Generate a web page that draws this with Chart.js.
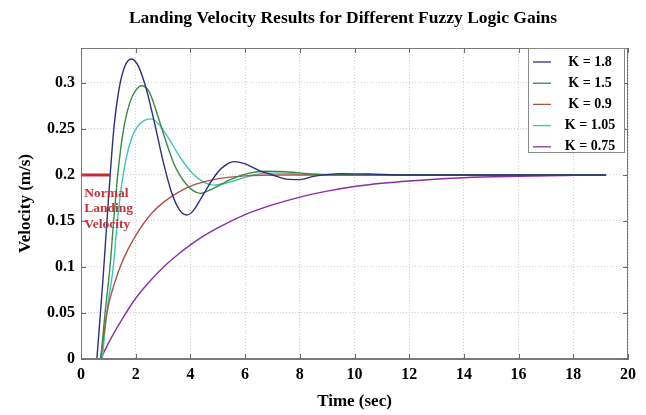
<!DOCTYPE html>
<html>
<head>
<meta charset="utf-8">
<title>Landing Velocity Results for Different Fuzzy Logic Gains</title>
<script src="https://cdn.jsdelivr.net/npm/chart.js@4.4.1/dist/chart.umd.min.js"></script>
<style>
    html, body { margin: 0; padding: 0; background: #fff; }
    #wrap { width: 646px; height: 415px; position: relative; }
</style>
</head>
<body>
<div id="wrap"><canvas id="velocityChart"></canvas></div>
<script>
// Data
const chartTitle = 'Landing Velocity Results for Different Fuzzy Logic Gains';
const seriesLabels = ['K = 1.8', 'K = 1.5', 'K = 0.9', 'K = 1.05', 'K = 0.75'];
const seriesColors = ['#2e2f7c', '#3b8a42', '#b0524a', '#3fc4bc', '#8a2ea6'];

const k18Time = [0.58, 0.8, 1.0, 1.2, 1.4, 1.6, 1.85, 2.1, 2.4, 2.7, 3.0, 3.3, 3.6, 3.87, 4.1, 4.4, 4.7, 5.0, 5.3, 5.6, 6.0, 6.5, 7.0, 7.5, 8.0, 8.5, 9.5, 10.5, 12, 15, 19.2];
const k18Vel = [0, 0.085, 0.172, 0.25, 0.295, 0.318, 0.326, 0.318, 0.292, 0.255, 0.215, 0.182, 0.162, 0.1565, 0.161, 0.175, 0.19, 0.203, 0.211, 0.2145, 0.212, 0.205, 0.2, 0.1955, 0.195, 0.1985, 0.2015, 0.201, 0.2, 0.2, 0.2];

const k15Time = [0.72, 0.88, 1.06, 1.18, 1.31, 1.45, 1.6, 1.8, 2.0, 2.23, 2.5, 2.8, 3.1, 3.4, 3.63, 3.85, 4.1, 4.36, 4.8, 5.46, 6.07, 6.8, 7.5, 8.5, 10, 12, 15, 19.2];
const k15Vel = [0, 0.05, 0.1, 0.145, 0.19, 0.228, 0.257, 0.28, 0.292, 0.297, 0.29, 0.265, 0.237, 0.212, 0.199, 0.19, 0.183, 0.18, 0.185, 0.195, 0.2015, 0.204, 0.2035, 0.201, 0.2, 0.2, 0.2, 0.2];

const k09Time = [0.72, 0.85, 1.0, 1.2, 1.43, 1.7, 2.0, 2.28, 2.6, 3.0, 3.6, 4.2, 4.85, 6.0, 7.3, 9, 12, 16, 19.2];
const k09Vel = [0, 0.03, 0.058, 0.08, 0.1, 0.118, 0.134, 0.147, 0.159, 0.17, 0.182, 0.19, 0.195, 0.199, 0.2, 0.2, 0.2, 0.2, 0.2];

const k105Time = [0.78, 0.94, 1.18, 1.33, 1.49, 1.65, 1.85, 2.05, 2.3, 2.55, 2.85, 3.2, 3.63, 4.1, 4.5, 4.85, 5.4, 6.07, 6.7, 7.3, 8.0, 9, 11, 15, 19.2];
const k105Vel = [0, 0.05, 0.1, 0.15, 0.19, 0.218, 0.24, 0.252, 0.259, 0.261, 0.255, 0.24, 0.219, 0.201, 0.192, 0.189, 0.192, 0.198, 0.202, 0.202, 0.201, 0.2, 0.2, 0.2, 0.2];

const k075Time = [0.72, 1.0, 1.5, 2.0, 2.5, 3.0, 3.5, 4.0, 4.5, 5.0, 6.0, 7.0, 8.0, 9.0, 10, 11, 12, 14, 16, 19.2];
const k075Vel = [0, 0.017, 0.043, 0.066, 0.084, 0.0995, 0.1125, 0.124, 0.134, 0.1425, 0.157, 0.1675, 0.176, 0.1825, 0.1875, 0.191, 0.1935, 0.197, 0.1985, 0.2];

// red "normal landing velocity" reference segment
const normalTime = [0, 1.05];
const normalVel = [0.2, 0.2];
const normalText = ['Normal', 'Landing', 'Velocity'];

const yTickValues = [0, 0.05, 0.1, 0.15, 0.2, 0.25, 0.3];
const yTickLabels = ['0', '0.05', '0.1', '0.15', '0.2', '0.25', '0.3'];

const SERIF = '"Liberation Serif", "DejaVu Serif", serif';

function toPoints(xs, ys) {
    return xs.map((x, i) => ({ x: x, y: ys[i] }));
}

const allSeries = [
    [k18Time, k18Vel],
    [k15Time, k15Vel],
    [k09Time, k09Vel],
    [k105Time, k105Vel],
    [k075Time, k075Vel]
];

// Title, plot frame, inner tick marks, annotation and boxed legend
const decorPlugin = {
    id: 'decor',
    afterDraw(chart) {
        const ctx = chart.ctx;
        const a = chart.chartArea;
        const xs = chart.scales.x;
        const ys = chart.scales.y;

        ctx.save();
        // title
        ctx.fillStyle = '#000';
        ctx.font = 'bold 17.5px ' + SERIF;
        ctx.textAlign = 'center';
        ctx.textBaseline = 'middle';
        ctx.fillText(chartTitle, 343, 18);

        // frame
        ctx.strokeStyle = '#7a7a7a';
        ctx.lineWidth = 1;
        ctx.strokeRect(a.left + 0.5, a.top + 0.5, a.right - a.left - 1, a.bottom - a.top - 1);

        // inner ticks
        ctx.strokeStyle = '#6a6a6a';
        ctx.beginPath();
        xs.ticks.forEach(t => {
            const px = Math.round(xs.getPixelForValue(t.value)) + 0.5;
            ctx.moveTo(px, a.bottom); ctx.lineTo(px, a.bottom - 5);
            ctx.moveTo(px, a.top); ctx.lineTo(px, a.top + 5);
        });
        ys.ticks.forEach(t => {
            const py = Math.round(ys.getPixelForValue(t.value)) + 0.5;
            ctx.moveTo(a.left, py); ctx.lineTo(a.left + 5, py);
            ctx.moveTo(a.right, py); ctx.lineTo(a.right - 5, py);
        });
        ctx.stroke();

        // "Normal Landing Velocity" label
        ctx.fillStyle = '#c0343a';
        ctx.font = 'bold 13.5px ' + SERIF;
        ctx.textAlign = 'left';
        ctx.textBaseline = 'alphabetic';
        const tx = xs.getPixelForValue(0.12);
        const ty = ys.getPixelForValue(0.2) + 22;
        normalText.forEach((s, i) => ctx.fillText(s, tx, ty + i * 15.5));

        // legend box
        const bx = 528, by = a.top, bw = a.right - 3 - bx, bh = 105;
        ctx.fillStyle = '#ffffff';
        ctx.fillRect(bx, by, bw, bh);
        ctx.strokeStyle = '#8a8a8a';
        ctx.strokeRect(bx + 0.5, by + 0.5, bw - 1, bh - 1);
        ctx.font = 'bold 14px ' + SERIF;
        ctx.textAlign = 'center';
        ctx.textBaseline = 'middle';
        seriesLabels.forEach((lab, i) => {
            const ry = by + 14 + i * 21.2;
            ctx.strokeStyle = seriesColors[i];
            ctx.lineWidth = 1.3;
            ctx.beginPath();
            ctx.moveTo(bx + 5, ry); ctx.lineTo(bx + 23, ry);
            ctx.stroke();
            ctx.fillStyle = '#000';
            ctx.fillText(lab, bx + 62, ry);
        });
        ctx.restore();
    }
};

function initializeVelocityChart() {
    const ctx = document.getElementById('velocityChart').getContext('2d');

    const datasets = allSeries.map((s, i) => ({
        label: seriesLabels[i],
        data: toPoints(s[0], s[1]),
        borderColor: seriesColors[i],
        borderWidth: 1.4,
        pointRadius: 0,
        cubicInterpolationMode: 'monotone',
        fill: false
    }));
    datasets.push({
        label: 'normal',
        data: toPoints(normalTime, normalVel),
        borderColor: '#c62a30',
        borderWidth: 3,
        pointRadius: 0,
        fill: false
    });

    new Chart(ctx, {
        type: 'line',
        data: { datasets: datasets },
        options: {
            responsive: true,
            maintainAspectRatio: false,
            devicePixelRatio: 1,
            animation: false,
            layout: {
                padding: { top: 48, right: 18, bottom: 0, left: 0 }
            },
            plugins: {
                legend: { display: false },
                tooltip: { enabled: false },
                title: { display: false }
            },
            scales: {
                x: {
                    type: 'linear',
                    min: 0,
                    max: 20,
                    ticks: {
                        stepSize: 2,
                        color: '#000',
                        padding: 6,
                        font: { family: SERIF, size: 16, weight: 'bold' }
                    },
                    grid: {
                        color: '#cfcfcf',
                        drawTicks: false
                    },
                    border: { color: '#7a7a7a', dash: [1, 2] },
                    title: {
                        display: true,
                        text: 'Time (sec)',
                        color: '#000',
                        font: { family: SERIF, size: 17, weight: 'bold' },
                        padding: { top: 0, bottom: 3 }
                    },
                    afterFit(scale) { scale.height = 56; }
                },
                y: {
                    min: 0,
                    max: 0.338,
                    afterBuildTicks(scale) {
                        scale.ticks = yTickValues.map(v => ({ value: v }));
                    },
                    ticks: {
                        color: '#000',
                        padding: 6,
                        font: { family: SERIF, size: 16, weight: 'bold' },
                        callback: (v) => yTickLabels[yTickValues.indexOf(v)]
                    },
                    grid: {
                        color: '#cfcfcf',
                        drawTicks: false
                    },
                    border: { color: '#7a7a7a', dash: [1, 2] },
                    title: {
                        display: true,
                        text: 'Velocity (m/s)',
                        color: '#000',
                        font: { family: SERIF, size: 17, weight: 'bold' },
                        padding: { top: 15, bottom: 0 }
                    },
                    afterFit(scale) { scale.width = 81; }
                }
            }
        },
        plugins: [decorPlugin]
    });
}

document.addEventListener('DOMContentLoaded', function() {
    initializeVelocityChart();
});
</script>
</body>
</html>
